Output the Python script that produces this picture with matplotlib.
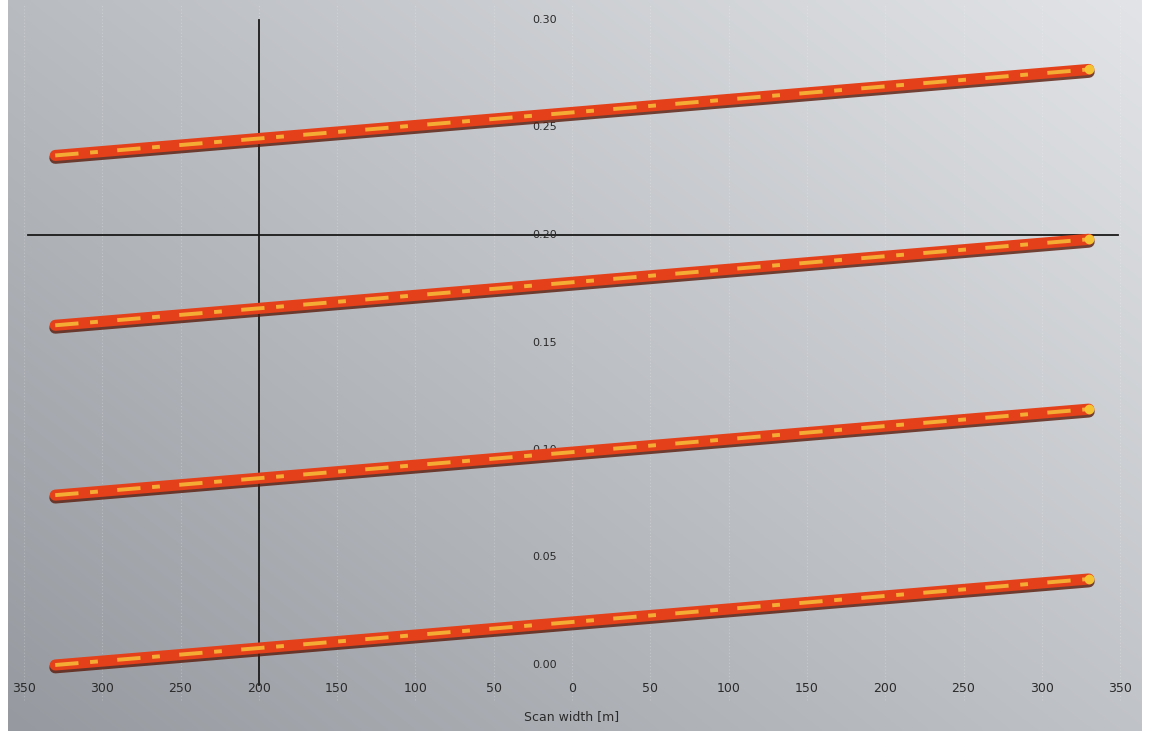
import matplotlib
matplotlib.use("Agg")
import matplotlib.pyplot as plt
import numpy as np

# scan width (m) and the four line series
x_start, x_end = -330, 330
lines_y = [
    (0.237, 0.277),
    (0.158, 0.198),
    (0.079, 0.119),
    (0.000, 0.040),
]
xticks = [-350, -300, -250, -200, -150, -100, -50, 0, 50, 100, 150, 200, 250, 300, 350]
yticks = [0.00, 0.05, 0.10, 0.15, 0.20, 0.25, 0.30]
ytick_labels = ["0.00", "0.05", "0.10", "0.15", "0.20", "0.25", "0.30"]

# pixel -> data mapping (figure fills 1152x733)
px_per_x = 78.3 / 50
px_per_y = 107.5 / 0.05
x0_px, y0_px = 572, 665
def dx(px):
    return (px - x0_px) / px_per_x
def dy(py):
    return (y0_px - py) / px_per_y

fig = plt.figure(figsize=(11.52, 7.33), dpi=100, facecolor="white")
ax = fig.add_axes([0, 0, 1, 1])
ax.set_xlim(dx(0), dx(1152))
ax.set_ylim(dy(733), dy(0))
ax.axis("off")

# gradient background
gx = np.linspace(0, 1, 300)
gy = np.linspace(0, 1, 200)
GX, GY = np.meshgrid(gx, gy)
t = np.clip(0.55 * GX + 0.45 * (1 - GY), 0, 1)  # row 0 = top
dark = np.array([150, 154, 160]) / 255
light = np.array([226, 228, 231]) / 255
img = dark + (light - dark) * t[..., None]
ax.imshow(img, extent=(dx(8), dx(1142), dy(731), dy(0)), aspect="auto", zorder=0,
          interpolation="bilinear")

# faint vertical grid
for xv in xticks:
    ax.plot([xv, xv], [dy(700), dy(5)], color="white", lw=0.8, alpha=0.25,
            ls=(0, (1, 2)), zorder=1)

# axes lines
ax.plot([dx(28), dx(1118)], [0.20, 0.20], color="#1a1a1a", lw=1.3, zorder=2)
ax.plot([-200, -200], [dy(20), dy(685)], color="#1a1a1a", lw=1.3, zorder=2)

# tick labels
for xv in xticks:
    ax.text(xv, dy(688), str(abs(xv)), ha="center", va="center",
            fontsize=9, color="#2a2a2a", zorder=3)
for yv, lab in zip(yticks, ytick_labels):
    ax.text(dx(545), yv, lab, ha="center", va="center", fontsize=8,
            color="#2a2a2a", zorder=3)
ax.text(0, dy(717), "Scan width [m]", ha="center", va="center", fontsize=9,
        color="#2a2a2a", zorder=3)

# the four thick lines
xs = [x_start, x_end]
for y1, y2 in lines_y:
    ys = [y1, y2]
    shadow = [v - 2.5 / px_per_y for v in ys]
    ax.plot(xs, shadow, color="#5a1a0a", lw=8.5, solid_capstyle="round", zorder=4, alpha=0.8)
    ax.plot(xs, ys, color="#e4401a", lw=8, solid_capstyle="round", zorder=5)
    ax.plot(xs, ys, color="#f6b938", lw=2.8, ls=(0, (6, 3, 2, 5)), zorder=6, alpha=0.9)
    ax.plot([x_end], [y2], "o", color="#f5c332", ms=6, zorder=7)

fig.savefig("out.png", dpi=100, facecolor="white")
